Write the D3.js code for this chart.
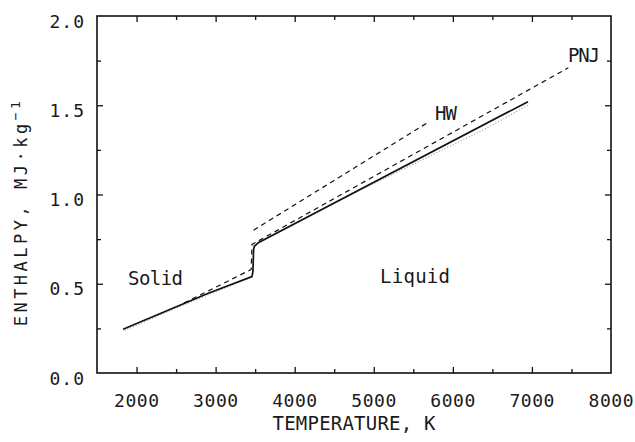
<!DOCTYPE html>
<html>
<head>
<meta charset="utf-8">
<script src="https://cdn.jsdelivr.net/npm/d3@7"></script>
<style>
  body { margin: 0; background: #fff; }
  text { font-family: "DejaVu Sans Mono", monospace; fill: #1a1a1a; }
</style>
</head>
<body>
<div id="chart"></div>
<script>
// temperature (K) / enthalpy (MJ/kg)
var solid_T = [1830, 2900, 3460, 3472, 3480, 3490, 3540, 6950];
var solid_H = [0.245, 0.445, 0.540, 0.570, 0.690, 0.710, 0.730, 1.520];

var pnj_T = [2600, 3450, 3460, 7460];
var pnj_H = [0.392, 0.580, 0.720, 1.710];

var hw_T = [3480, 5690];
var hw_H = [0.800, 1.405];

// faint scatter of measured points along the curve
var exp_solid_T = [1850, 2400, 3000, 3440];
var exp_solid_H = [0.238, 0.345, 0.455, 0.535];
var exp_liq_T = [4600, 5200, 5800, 6400, 6950];
var exp_liq_H = [0.975, 1.105, 1.235, 1.365, 1.500];

var x_ticks = [2000, 3000, 4000, 5000, 6000, 7000, 8000];
var x_minor = [2500, 3500, 4500, 5500, 6500, 7500];
var y_ticks = [0.0, 0.5, 1.0, 1.5, 2.0];
var y_minor = [0.25, 0.75, 1.25, 1.75];

var labels = [
  {text: "Solid", x: 128, y: 285, len: 55},
  {text: "Liquid", x: 380, y: 283, len: 70},
  {text: "HW", x: 435, y: 120, len: 22},
  {text: "PNJ", x: 568, y: 62, len: 32}
];

var width = 635, height = 442;
var m_left = 97, m_right = 611, m_top = 16, m_bottom = 373;

var svg = d3.select("#chart").append("svg")
  .attr("width", width)
  .attr("height", height);

var x = d3.scaleLinear().domain([1500, 8000]).range([m_left, m_right]);
var y = d3.scaleLinear().domain([0, 2]).range([m_bottom, m_top]);

function zip(a, b) { return a.map(function(d, i) { return [d, b[i]]; }); }

var line = d3.line()
  .x(function(d) { return x(d[0]); })
  .y(function(d) { return y(d[1]); });

// ticks on all four sides, pointing in
function addAxis(axis, tx, ty, cls) {
  var g = svg.append("g")
    .attr("class", cls)
    .attr("transform", "translate(" + tx + "," + ty + ")")
    .call(axis);
  g.select(".domain").remove();
  g.selectAll("text").remove();
  g.selectAll("line").attr("stroke", "#111").attr("stroke-width", 1.3);
  return g;
}

addAxis(d3.axisBottom(x).tickValues(x_ticks.slice(0, -1)).tickSize(-6), 0, m_bottom, "xb");
addAxis(d3.axisBottom(x).tickValues(x_minor).tickSize(-4), 0, m_bottom, "xbm");
addAxis(d3.axisTop(x).tickValues(x_ticks.slice(0, -1)).tickSize(-6), 0, m_top, "xt");
addAxis(d3.axisTop(x).tickValues(x_minor).tickSize(-4), 0, m_top, "xtm");
addAxis(d3.axisLeft(y).tickValues(y_ticks.slice(1, -1)).tickSize(-6), m_left, 0, "yl");
addAxis(d3.axisLeft(y).tickValues(y_minor).tickSize(-4), m_left, 0, "ylm");
addAxis(d3.axisRight(y).tickValues(y_ticks.slice(1, -1)).tickSize(-6), m_right, 0, "yr");
addAxis(d3.axisRight(y).tickValues(y_minor).tickSize(-4), m_right, 0, "yrm");

// tick labels
svg.append("g").selectAll("text")
  .data(x_ticks)
  .enter()
  .append("text")
  .attr("x", function(d) { return x(d); })
  .attr("y", m_bottom + 34)
  .attr("text-anchor", "middle")
  .attr("font-size", 18)
  .attr("textLength", 45)
  .attr("lengthAdjust", "spacing")
  .text(function(d) { return d; });

svg.append("g").selectAll("text")
  .data(y_ticks)
  .enter()
  .append("text")
  .attr("x", m_left - 12)
  .attr("y", function(d) { return y(d) + 11.5; })
  .attr("text-anchor", "end")
  .attr("font-size", 18)
  .attr("letter-spacing", 1)
  .text(function(d) { return d.toFixed(1); });

// frame
svg.append("rect")
  .attr("x", m_left).attr("y", m_top)
  .attr("width", m_right - m_left).attr("height", m_bottom - m_top)
  .attr("fill", "none")
  .attr("stroke", "#111")
  .attr("stroke-width", 1.6);

// axis titles
svg.append("text")
  .attr("x", (m_left + m_right) / 2)
  .attr("y", 430)
  .attr("text-anchor", "middle")
  .attr("font-size", 19)
  .attr("textLength", 163)
  .attr("lengthAdjust", "spacing")
  .text("TEMPERATURE, K");

var yt = svg.append("text")
  .attr("transform", "translate(27,212) rotate(-90)")
  .attr("text-anchor", "middle")
  .attr("font-size", 17)
  .attr("letter-spacing", 3.5);
yt.append("tspan").text("ENTHALPY,  MJ\u00b7kg");
yt.append("tspan").attr("dy", -7).attr("font-size", 13).text("\u22121");

// curves
svg.append("path")
  .datum(zip(exp_solid_T, exp_solid_H))
  .attr("d", line)
  .attr("fill", "none")
  .attr("stroke", "#999")
  .attr("stroke-width", 1.2)
  .attr("stroke-dasharray", "1,2");

svg.append("path")
  .datum(zip(exp_liq_T, exp_liq_H))
  .attr("d", line)
  .attr("fill", "none")
  .attr("stroke", "#999")
  .attr("stroke-width", 1.2)
  .attr("stroke-dasharray", "1,2");

svg.append("path")
  .datum(zip(solid_T, solid_H))
  .attr("d", line)
  .attr("fill", "none")
  .attr("stroke", "#111")
  .attr("stroke-width", 1.7);

svg.append("path")
  .datum(zip(pnj_T, pnj_H))
  .attr("d", line)
  .attr("fill", "none")
  .attr("stroke", "#111")
  .attr("stroke-width", 1.2)
  .attr("stroke-dasharray", "5,4");

svg.append("path")
  .datum(zip(hw_T, hw_H))
  .attr("d", line)
  .attr("fill", "none")
  .attr("stroke", "#111")
  .attr("stroke-width", 1.2)
  .attr("stroke-dasharray", "5,4");

// in-plot labels
svg.append("g").selectAll("text")
  .data(labels)
  .enter()
  .append("text")
  .attr("x", function(d) { return d.x; })
  .attr("y", function(d) { return d.y; })
  .attr("font-size", 19)
  .attr("textLength", function(d) { return d.len; })
  .attr("lengthAdjust", "spacing")
  .text(function(d) { return d.text; });
</script>
</body>
</html>
